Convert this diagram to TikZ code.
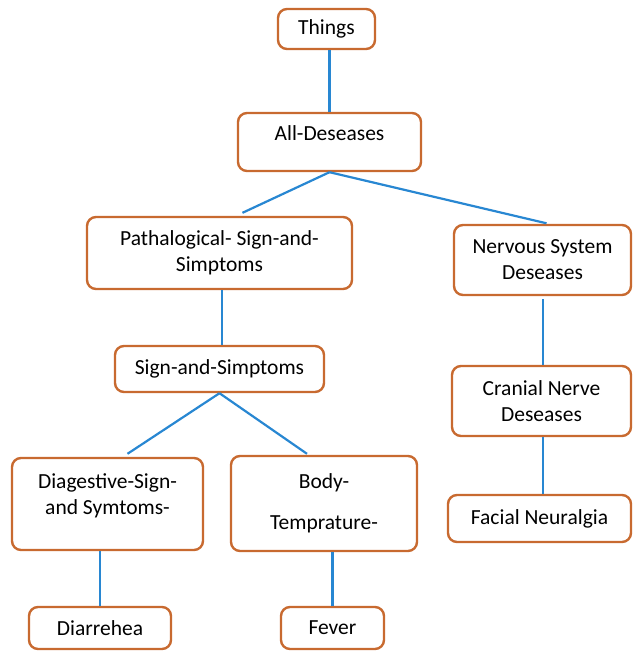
\documentclass[tikz,border=0pt]{standalone}
\usepackage{fontspec}
\setmainfont{Carlito}
\usepackage{tikz}
\usetikzlibrary{calc}

\definecolor{boxOrange}{RGB}{200,106,48}
\definecolor{lineBlue}{RGB}{40,135,210}

\begin{document}
\begin{tikzpicture}[x=1pt, y=-1pt,
    box/.style={draw=boxOrange, line width=2.4pt, rounded corners=9pt, fill=white,
      align=center, inner sep=2pt, font=\fontsize{21.5}{26}\selectfont},
    link/.style={draw=lineBlue, line width=2.2pt}]
          % Define parameters
          \def\gapUp{3}        % small gap between a link and the box it points to

          \useasboundingbox (0,0) rectangle (633,654);

          % Draw top level
          \node[box, minimum width=97, minimum height=40] (things) at (326.5,29) {Things};
          \node[box, minimum width=183, minimum height=58, text depth=18pt] (all) at (329.5,142) {All-Deseases};

          % Draw left branch
          \node[box, minimum width=265, minimum height=72] (path) at (219.5,253) {Pathalogical- Sign-and-\\Simptoms};
          \node[box, minimum width=209, minimum height=46] (sign) at (219.5,369) {Sign-and-Simptoms};
          \node[box, minimum width=191, minimum height=92, text depth=19pt] (diag) at (107.5,504) {Diagestive-Sign-\\and Symtoms-};
          \node[box, minimum width=186, minimum height=95] (body) at (324,503.5) {Body-\\[15pt]Temprature-};
          \node[box, minimum width=142, minimum height=42] (diarr) at (100,628) {Diarrehea};
          \node[box, minimum width=103, minimum height=42] (fever) at (332.5,628) {Fever};

          % Draw right branch
          \node[box, minimum width=177, minimum height=70] (nerv) at (542.5,260) {Nervous System\\Deseases};
          \node[box, minimum width=179, minimum height=70] (cran) at (541.5,401) {Cranial Nerve\\Deseases};
          \node[box, minimum width=183, minimum height=47] (facial) at (539.5,518.5) {Facial Neuralgia};

          % Draw links
          \draw[link] (all.north) -- (all.north |- things.south);
          \draw[link] (all.south) -- ([xshift=23pt, yshift=\gapUp pt]path.north);
          \draw[link] (all.south) -- ([xshift=4pt, yshift=0.5pt]nerv.north);
          \draw[link] ([xshift=2.5pt]path.south) -- ([xshift=2.5pt]sign.north);
          \draw[link] (sign.south) -- ([xshift=20pt, yshift=\gapUp pt]diag.north);
          \draw[link] (sign.south) -- ([xshift=-17pt, yshift=1pt]body.north);
          \draw[link] (diarr.north) -- (diarr.north |- diag.south);
          \draw[link] (fever.north) -- (fever.north |- body.south);
          \draw[link] ([xshift=0.5pt, yshift=-\gapUp pt]nerv.south) -- ([xshift=1.5pt]cran.north);
          \draw[link] ([xshift=1.5pt]cran.south) -- ([xshift=1.5pt]cran.south |- facial.north);
     \end{tikzpicture}
\end{document}
